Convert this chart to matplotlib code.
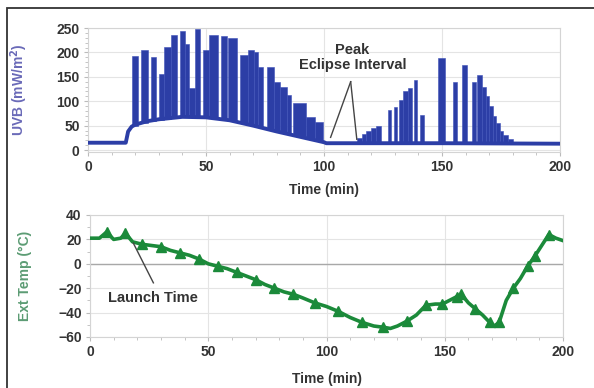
import matplotlib
matplotlib.use("Agg")
import matplotlib.pyplot as plt
import numpy as np
from matplotlib.patches import Rectangle
from matplotlib.ticker import MultipleLocator

plt.rcParams['font.family'] = ['Liberation Sans', 'DejaVu Sans']
plt.rcParams['font.weight'] = 'bold'
plt.rcParams['axes.labelweight'] = 'bold'

# UVB baseline (minimum of the rotating sensor)
uvb_base_t = [0, 16, 17, 18.5, 20, 25, 30, 40, 50, 60, 70, 80, 90, 100, 101, 150, 200]
uvb_base_v = [15, 15, 38, 48, 52, 59, 63, 68, 67, 61, 50, 38, 27, 16, 14, 14, 13]

# UVB spikes: start, end, low, high
uvb_start = [18.5, 22.5, 26.5, 30, 32.3, 35.3, 38.8, 41.2, 42.7, 45.3, 48.8, 51.2, 56.5, 59.3,
             64.3, 68, 70.2, 72.2, 76, 78.7, 81.2, 84.2, 87, 92.3, 96.2,
             114, 116, 118, 120, 122,
             127, 129.7, 131.8, 133.5, 135.5, 138, 140.8, 148.5, 154.8, 158.3, 162.5, 165,
             166.8, 168.5, 170, 171.5, 173, 174.5, 176, 178]
uvb_end = [21, 25.5, 29, 32.3, 35, 37.6, 41.2, 42.7, 45.3, 47.6, 51.2, 55, 58.8, 63,
           68, 70.2, 72.2, 74.3, 78.7, 81.2, 84.2, 86, 92.3, 96.2, 99.7,
           116, 118, 120, 122, 124,
           128.6, 131, 133.5, 135.5, 137.4, 139.4, 142.2, 151.3, 156.2, 160.4, 164.6, 166.8,
           168.5, 170, 171.5, 173, 174.5, 176, 178, 180]
uvb_low = [50, 56, 59, 62, 64, 66, 67, 68, 68, 68, 67, 66, 63, 61,
           56, 52, 49, 47, 42, 39, 36, 33, 29, 23, 18,
           14, 14, 14, 14, 14,
           14, 14, 14, 14, 14, 14, 14, 14, 14, 14, 14, 14,
           14, 14, 14, 14, 14, 14, 14, 14]
uvb_high = [192, 205, 190, 155, 212, 236, 244, 218, 128, 248, 205, 236, 233, 230,
            195, 205, 200, 170, 170, 140, 130, 113, 96, 68, 58,
            24, 32, 39, 45, 50,
            82, 89, 102, 120, 127, 143, 72, 188, 140, 174, 140, 154,
            130, 110, 90, 70, 55, 40, 30, 22]

# external temperature
temp_t = [0, 4, 7, 10, 13, 15, 18, 22, 26, 30, 34, 38, 42, 46, 50, 54, 58, 62, 66, 70,
          74, 78, 82, 86, 90, 95, 100, 105, 110, 115, 120, 124, 127, 130, 134, 138, 142,
          146, 149, 152, 155, 157, 160, 163, 166, 169, 171, 173, 176, 179, 182, 185, 188,
          191, 194, 197, 200]
temp_v = [21, 21, 26, 20, 21, 25, 18, 16, 15, 14, 11, 9, 7, 4, 0, -2, -4, -7, -10, -13,
          -17, -20, -23, -25, -28, -32, -35, -39, -44, -48, -51, -52, -53, -51, -47, -42, -34,
          -33, -33, -30, -27, -25, -32, -37, -42, -48, -51, -48, -30, -20, -12, -2, 6,
          15, 24, 21, 19]
temp_marks = [2, 5, 7, 9, 11, 13, 15, 17, 19, 21, 23, 25, 27, 29, 31, 34, 36, 38, 40, 41,
              43, 45, 47, 49, 51, 52, 54]

blue = '#2c3ea6'
green = '#1b8a3a'
txt = '#333333'

fig = plt.figure(figsize=(5.94, 3.88), dpi=100)
ax1 = fig.add_axes([88/594, 1-152/388, 472/594, 124/388])
ax2 = fig.add_axes([90/594, 1-337/388, 473/594, 122/388])

# top panel
ax1.bar(uvb_start, np.array(uvb_high) - np.array(uvb_low), bottom=uvb_low,
        width=np.array(uvb_end) - np.array(uvb_start), align='edge',
        color=blue, edgecolor='#3d50b8', linewidth=0.4, zorder=3)
ax1.plot(uvb_base_t, uvb_base_v, color=blue, lw=2.8, zorder=3, solid_capstyle='butt')
ax1.set_xlim(0, 200)
ax1.set_ylim(-4, 250)
ax1.yaxis.set_major_locator(MultipleLocator(50))
ax1.yaxis.set_minor_locator(MultipleLocator(10))
ax1.set_ylabel('UVB (mW/m$^\\mathbf{2}$)', color='#6a6ab8', fontsize=10)
ax1.yaxis.set_label_coords(-0.123, 0.5)
ax1.set_xlabel('Time (min)', color=txt, fontsize=10)
ax1.xaxis.set_label_coords(0.5, -0.25)
ax1.plot([111.3, 102.8], [140, 26], color='#444444', lw=1, zorder=4)
ax1.plot([111.3, 113.9], [140, 22], color='#444444', lw=1, zorder=4)
ax1.text(112, 190, 'Peak\nEclipse Interval', ha='center', va='center', fontsize=10.5,
         color=txt, linespacing=1.1, zorder=5)

# bottom panel
ax2.plot(temp_t, temp_v, color=green, lw=2.6, marker='^', markersize=7,
         markevery=temp_marks, zorder=3)
ax2.axhline(0, color='#a8a8a8', lw=1, zorder=2)
ax2.set_xlim(0, 200)
ax2.set_ylim(-60, 40)
ax2.yaxis.set_major_locator(MultipleLocator(20))
ax2.yaxis.set_minor_locator(MultipleLocator(10))
ax2.set_ylabel('Ext Temp (°C)', color='#5c9c74', fontsize=10)
ax2.yaxis.set_label_coords(-0.123, 0.5)
ax2.set_xlabel('Time (min)', color=txt, fontsize=10)
ax2.xaxis.set_label_coords(0.5, -0.29)
ax2.plot([26.8, 18.3], [-15.6, 17], color='#444444', lw=1, zorder=4)
ax2.text(26.6, -28, 'Launch Time', ha='center', va='center', fontsize=10.5, color=txt, zorder=5)

for ax in (ax1, ax2):
    ax.xaxis.set_major_locator(MultipleLocator(50))
    ax.xaxis.set_minor_locator(MultipleLocator(10))
    ax.grid(True, which='major', color='#e4e4e4', lw=0.8, zorder=0)
    ax.set_axisbelow(True)
    for s in ax.spines.values():
        s.set_color('#d4d4d4')
        s.set_linewidth(0.8)
    ax.tick_params(which='both', direction='out', colors='#bbbbbb', labelcolor=txt,
                   labelsize=10, pad=3)
    ax.tick_params(which='major', length=3)
    ax.tick_params(which='minor', length=2)

# outer frame
fig.add_artist(Rectangle((7/594, -0.05), 1.2, 1 - 8/388 + 0.05, transform=fig.transFigure,
                         fill=False, edgecolor='#333333', lw=1.3))

fig.savefig('out.png', dpi=100)
